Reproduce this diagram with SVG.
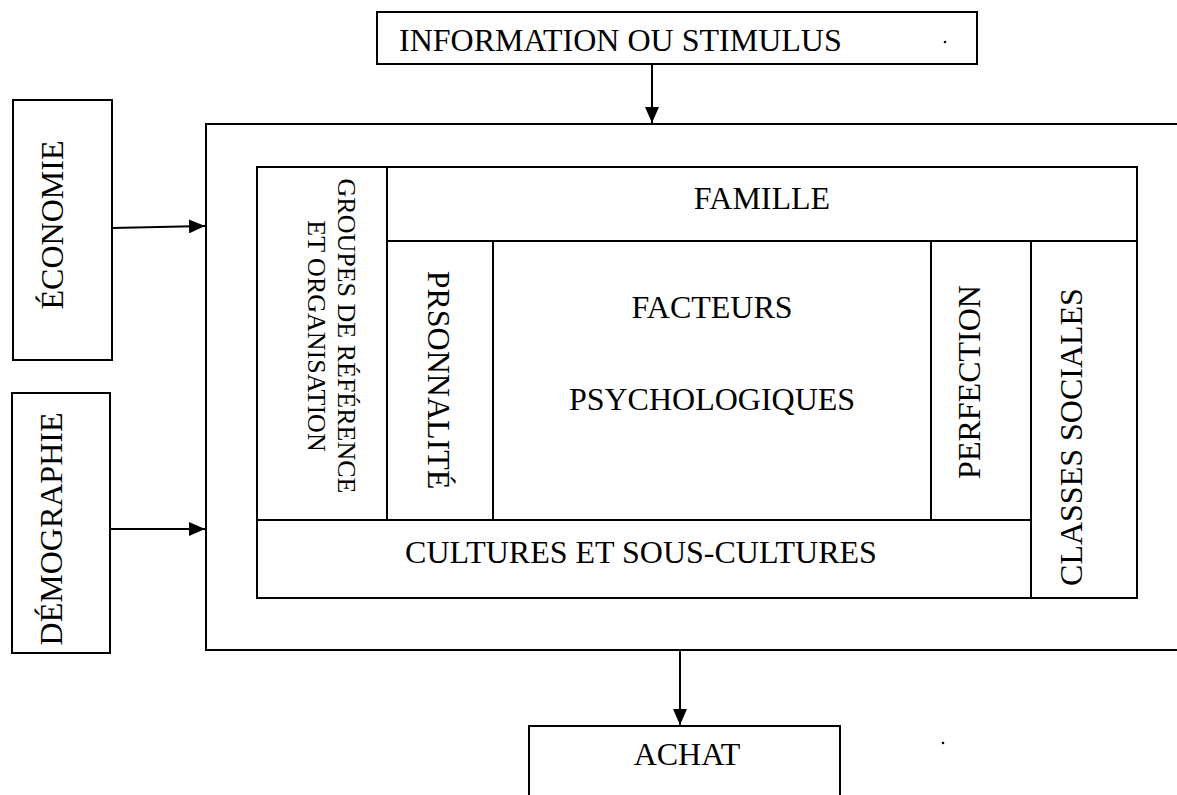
<svg xmlns="http://www.w3.org/2000/svg" width="1177" height="795" viewBox="0 0 1177 795">
  <style>
    .box { fill: #ffffff; stroke: #000000; stroke-width: 2; }
    .lbl { font-family: "Liberation Serif", "Times New Roman", serif; font-size: 32px; fill: #000000; }
    .sm { font-size: 26px; }
    .mid { text-anchor: middle; }
    .edge { stroke: #000000; stroke-width: 2; fill: none; }
  </style>
  <defs>
    <marker id="head" viewBox="0 0 10 10" refX="10" refY="5" markerWidth="8" markerHeight="8" markerUnits="userSpaceOnUse" orient="auto">
      <path d="M0,0 L10,5 L0,10 Z" fill="#000000"/>
    </marker>
    <marker id="tip" viewBox="0 0 16 14" refX="16" refY="7" markerWidth="16" markerHeight="14" markerUnits="userSpaceOnUse" orient="auto">
      <path d="M0,0 L16,7 L0,14 Z" fill="#000000"/>
    </marker>
  </defs>
  <rect width="1177" height="795" fill="#ffffff"/>

  <!-- outer frame (open to the right edge) -->
  <g id="environnement">
    <rect class="box" x="206" y="124" width="1010" height="526"/>
  </g>

  <!-- inner cells -->
  <g id="groupes">
    <rect class="box" x="257" y="167" width="130" height="353"/>
    <text class="lbl sm mid" transform="translate(338,336) rotate(90)">GROUPES DE RÉFÉRENCE</text>
    <text class="lbl sm mid" transform="translate(308,336) rotate(90)">ET ORGANISATION</text>
  </g>
  <g id="famille">
    <rect class="box" x="387" y="167" width="750" height="74"/>
    <text class="lbl mid" x="762" y="209">FAMILLE</text>
  </g>
  <g id="personnalite">
    <rect class="box" x="387" y="241" width="106" height="279"/>
    <text class="lbl mid" transform="translate(428,380) rotate(90)">PRSONNALITÉ</text>
  </g>
  <g id="facteurs">
    <rect class="box" x="493" y="241" width="438" height="279"/>
    <text class="lbl mid" x="712" y="318">FACTEURS</text>
    <text class="lbl mid" x="712" y="410">PSYCHOLOGIQUES</text>
  </g>
  <g id="perfection">
    <rect class="box" x="931" y="241" width="100" height="279"/>
    <text class="lbl mid" transform="translate(980,382) rotate(-90)">PERFECTION</text>
  </g>
  <g id="classes">
    <rect class="box" x="1031" y="241" width="106" height="357"/>
    <text class="lbl mid" transform="translate(1082,437) rotate(-90)">CLASSES SOCIALES</text>
  </g>
  <g id="cultures">
    <rect class="box" x="257" y="520" width="774" height="78"/>
    <text class="lbl mid" x="641" y="563">CULTURES ET SOUS-CULTURES</text>
  </g>

  <!-- outside influences -->
  <g id="information">
    <rect class="box" x="377" y="12" width="600" height="52"/>
    <text class="lbl" x="399" y="51">INFORMATION OU STIMULUS</text>
    <circle cx="945" cy="42" r="1.3" fill="#000000"/>
  </g>
  <g id="economie">
    <rect class="box" x="13" y="100" width="99" height="260"/>
    <text class="lbl mid" transform="translate(63,225) rotate(-90)">ÉCONOMIE</text>
  </g>
  <g id="demographie">
    <rect class="box" x="12" y="393" width="98" height="260"/>
    <text class="lbl mid" transform="translate(62,529) rotate(-90)">DÉMOGRAPHIE</text>
  </g>
  <g id="achat">
    <rect class="box" x="529" y="726" width="311" height="90"/>
    <text class="lbl mid" x="687" y="765">ACHAT</text>
    <circle cx="943" cy="743" r="1.3" fill="#000000"/>
  </g>

  <!-- connectors -->
  <g id="connectors">
    <line class="edge" x1="652" y1="64" x2="652" y2="123" marker-end="url(#tip)"/>
    <line class="edge" x1="112" y1="228" x2="205" y2="226" marker-end="url(#tip)"/>
    <line class="edge" x1="110" y1="529" x2="205" y2="529" marker-end="url(#tip)"/>
    <line class="edge" x1="680" y1="650" x2="680" y2="725" marker-end="url(#tip)"/>
  </g>
</svg>
